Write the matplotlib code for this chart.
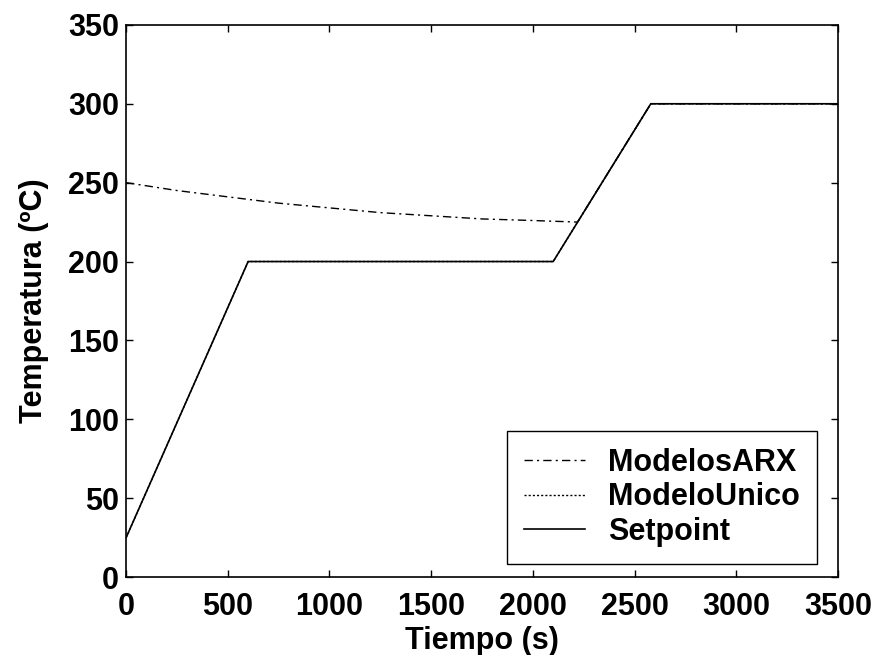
import matplotlib
matplotlib.use('Agg')
import matplotlib.pyplot as plt

# Setpoint profile (s, degC)
t_setpoint = [0, 600, 2100, 2580, 3500]
y_setpoint = [25, 200, 200, 300, 300]

# Single model output follows the setpoint closely
t_unico = [0, 600, 2100, 2580, 3500]
y_unico = [25, 200, 200, 300, 300]

# ARX models output
t_arx = [0, 250, 500, 750, 1000, 1250, 1500, 1750, 2000, 2220, 2580, 3500]
y_arx = [250, 245, 241, 237, 234, 231, 229, 227, 226, 225, 300, 300]

plt.rcParams['font.family'] = ['Liberation Sans', 'DejaVu Sans']
plt.rcParams['font.weight'] = 'bold'

fig = plt.figure(figsize=(8.82, 6.55), dpi=100)
ax = fig.add_axes([0.143, 0.119, 0.807, 0.843])

ax.plot(t_arx, y_arx, color='black', linestyle=(0, (6, 3, 1.5, 3)), linewidth=1.0, label='ModelosARX')
ax.plot(t_unico, y_unico, color='black', linestyle=(0, (1.5, 1.5)), linewidth=1.0, label='ModeloUnico')
ax.plot(t_setpoint, y_setpoint, color='black', linestyle='-', linewidth=1.2, label='Setpoint')

ax.set_xlim(0, 3500)
ax.set_ylim(0, 350)
ax.set_xticks(range(0, 3501, 500))
ax.set_yticks(range(0, 351, 50))
ax.tick_params(direction='in', top=True, right=True, length=5, width=1,
               labelsize=22, pad=5)
ax.tick_params(axis='x', pad=11)
for s in ax.spines.values():
    s.set_linewidth(1.2)

ax.set_xlabel('Tiempo (s)', fontsize=22, fontweight='bold', labelpad=3)
ax.set_ylabel('Temperatura (ºC)', fontsize=22, fontweight='bold', labelpad=14)

leg = ax.legend(loc='lower right', bbox_to_anchor=(0.97, 0.024), borderaxespad=0,
                fontsize=22, handlelength=2.0, handletextpad=0.75, labelspacing=0.15,
                borderpad=0.55, fancybox=False, framealpha=1, edgecolor='black')
leg.get_frame().set_linewidth(1.0)

fig.savefig('out.png', dpi=100)
